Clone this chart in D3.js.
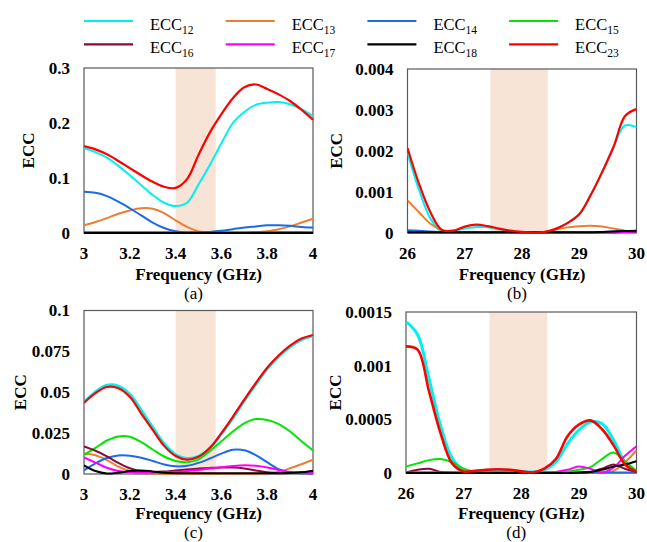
<!DOCTYPE html>
<html>
<head>
<meta charset="utf-8">
<script src="https://cdn.jsdelivr.net/npm/d3@7"></script>
<style>
  body { margin: 0; background: #fff; }
</style>
</head>
<body>
<svg id="chart" width="647" height="542"></svg>
<script>
// frequency grids
var freqLow = [3, 3.05, 3.1, 3.15, 3.2, 3.25, 3.3, 3.35, 3.4, 3.45, 3.5, 3.55, 3.6, 3.65, 3.7, 3.75, 3.8, 3.85, 3.9, 3.95, 4];
var freqHigh = [26, 26.2, 26.4, 26.6, 26.8, 27, 27.2, 27.4, 27.6, 27.8, 28, 28.2, 28.4, 28.6, 28.8, 29, 29.2, 29.4, 29.6, 29.8, 30];

var seriesNames = ["12", "13", "14", "15", "16", "17", "18", "23"];
var seriesColors = ["#00f0f0", "#ed7d31", "#1a6be8", "#00e600", "#8b0a3c", "#ff00ff", "#000000", "#ff0000"];

// (a) 3-4 GHz
var a12 = [0.154, 0.147, 0.137, 0.122, 0.105, 0.087, 0.069, 0.055, 0.049, 0.055, 0.088, 0.124, 0.163, 0.200, 0.220, 0.233, 0.237, 0.238, 0.234, 0.225, 0.212];
var a13 = [0.014, 0.020, 0.027, 0.035, 0.041, 0.045, 0.044, 0.036, 0.023, 0.011, 0.003, 0.001, 0.000, 0.000, 0.000, 0.001, 0.003, 0.007, 0.012, 0.019, 0.026];
var a14 = [0.075, 0.073, 0.067, 0.057, 0.045, 0.032, 0.019, 0.009, 0.003, 0.001, 0.001, 0.002, 0.004, 0.007, 0.010, 0.012, 0.014, 0.014, 0.013, 0.011, 0.010];
var a15 = [0.0005, 0.0005, 0.0005, 0.0005, 0.0005, 0.0005, 0.0005, 0.0005, 0.0005, 0.0005, 0.0005, 0.0005, 0.0005, 0.0005, 0.0006, 0.0008, 0.001, 0.0012, 0.0014, 0.0012, 0.001];
var a16 = [0.0008, 0.0008, 0.0008, 0.0008, 0.0008, 0.0008, 0.0008, 0.0008, 0.0008, 0.0008, 0.0008, 0.0008, 0.0008, 0.0008, 0.0008, 0.0008, 0.0008, 0.0008, 0.0008, 0.0008, 0.0008];
var a17 = [0.0004, 0.0004, 0.0004, 0.0004, 0.0004, 0.0004, 0.0004, 0.0004, 0.0004, 0.0004, 0.0004, 0.0004, 0.0004, 0.0004, 0.0004, 0.0004, 0.0004, 0.0004, 0.0004, 0.0004, 0.0004];
var a18 = [0.0002, 0.0002, 0.0002, 0.0002, 0.0002, 0.0002, 0.0002, 0.0002, 0.0002, 0.0002, 0.0002, 0.0002, 0.0002, 0.0002, 0.0002, 0.0002, 0.0002, 0.0002, 0.0002, 0.0002, 0.0002];
var a23 = [0.158, 0.152, 0.143, 0.131, 0.118, 0.105, 0.093, 0.084, 0.082, 0.098, 0.142, 0.183, 0.216, 0.245, 0.265, 0.270, 0.262, 0.252, 0.240, 0.224, 0.206];

// (b) 26-30 GHz
var b12 = [0.00195, 0.00105, 0.00035, 0.00002, 0.00004, 0.0001, 0.00014, 0.00013, 0.00008, 0.00004, 0.00001, 0.000005, 0.00002, 0.0001, 0.00024, 0.00045, 0.00092, 0.00148, 0.0021, 0.00262, 0.00258];
var b13 = [0.00079, 0.0005, 0.00022, 0.00006, 0.00001, 0.000005, 0.000005, 0.000005, 0.000005, 0.000005, 0.000005, 0.000005, 0.00002, 0.00008, 0.00013, 0.00016, 0.00017, 0.00015, 0.0001, 0.00005, 0.00003];
var b14 = [0.00006, 0.00005, 0.00003, 0.00001, 0, 0, 0, 0, 0, 0, 0, 0, 0, 0, 0, 0, 0.00001, 0.00002, 0.00003, 0.00004, 0.00004];
var b15 = [0.000005, 0.000005, 0.000005, 0.000005, 0.000005, 0.000005, 0.000005, 0.000005, 0.000005, 0.000005, 0.000005, 0.000005, 0.000005, 0.000005, 0.000005, 0.000005, 0.000005, 0.00001, 0.00002, 0.00001, 0.000005];
var b16 = [0, 0, 0, 0, 0, 0, 0, 0, 0, 0, 0, 0, 0, 0, 0, 0, 0, 0, 0, 0.00001, 0.00001];
var b17 = [0, 0, 0, 0, 0, 0, 0, 0, 0, 0, 0, 0, 0, 0, 0, 0, 0, 0.000005, 0.00001, 0.00002, 0.00003];
var b18 = [0.00001, 0.00001, 0.00001, 0.00001, 0.00001, 0.00001, 0.00001, 0.00001, 0.00001, 0.00001, 0.00001, 0.00001, 0.00001, 0.00001, 0.00001, 0.00001, 0.00001, 0.00002, 0.00003, 0.00004, 0.00005];
var b23 = [0.00207, 0.0012, 0.0005, 0.00007, 0.00005, 0.00015, 0.000195, 0.00016, 0.0001, 0.00005, 0.00002, 0.000005, 0.00002, 0.0001, 0.00024, 0.00045, 0.00092, 0.00148, 0.0021, 0.00285, 0.00302];

// (c) 3-4 GHz
var c12 = [0.0438, 0.0502, 0.0543, 0.0538, 0.0488, 0.039, 0.0285, 0.0185, 0.0118, 0.0095, 0.0108, 0.0158, 0.0245, 0.0342, 0.0448, 0.0548, 0.0643, 0.0718, 0.0778, 0.0822, 0.0845];
var c13 = [0.0124, 0.0115, 0.0085, 0.0045, 0.0018, 0.0006, 0.0003, 0.0002, 0.0002, 0.0002, 0.0002, 0.0002, 0.0002, 0.0002, 0.0002, 0.0002, 0.0004, 0.0014, 0.0035, 0.006, 0.0087];
var c14 = [0.0022, 0.0065, 0.0098, 0.0113, 0.0112, 0.01, 0.008, 0.0058, 0.0047, 0.005, 0.0068, 0.0095, 0.0125, 0.0148, 0.0145, 0.0115, 0.0072, 0.003, 0.001, 0.0004, 0.0002];
var c15 = [0.0118, 0.016, 0.0205, 0.023, 0.0228, 0.0195, 0.015, 0.0107, 0.008, 0.0072, 0.009, 0.014, 0.02, 0.026, 0.031, 0.0336, 0.033, 0.0305, 0.026, 0.02, 0.0144];
var c16 = [0.0168, 0.0142, 0.0108, 0.0068, 0.0035, 0.0017, 0.0012, 0.0015, 0.0022, 0.0028, 0.0033, 0.0037, 0.004, 0.004, 0.0034, 0.0022, 0.001, 0.0005, 0.0006, 0.001, 0.0014];
var c17 = [0.0101, 0.007, 0.0038, 0.0018, 0.001, 0.0008, 0.0008, 0.0009, 0.0012, 0.0018, 0.0025, 0.0033, 0.0042, 0.0049, 0.0053, 0.005, 0.004, 0.0025, 0.0012, 0.0006, 0.0004];
var c18 = [0.0053, 0.0018, 0.0003, 0.0008, 0.0018, 0.0022, 0.0016, 0.0008, 0.0005, 0.0004, 0.0004, 0.0004, 0.0004, 0.0004, 0.0004, 0.0004, 0.0004, 0.0005, 0.0007, 0.001, 0.002];
var c23 = [0.0436, 0.0495, 0.0532, 0.0525, 0.0472, 0.037, 0.027, 0.0172, 0.011, 0.0088, 0.0105, 0.016, 0.025, 0.035, 0.0455, 0.0555, 0.065, 0.0725, 0.0785, 0.0828, 0.085];

// (d) 26-30 GHz
var d12 = [0.00141, 0.00129, 0.00088, 0.00044, 0.00014, 0.00003, 0.000015, 0.000025, 0.00003, 0.000025, 0.000015, 0.00001, 0.00003, 0.0001, 0.00027, 0.0004, 0.000475, 0.00046, 0.00031, 0.0001, 0.00001];
var d13 = [0, 0, 0, 0, 0, 0, 0, 0, 0, 0, 0, 0, 0, 0, 0, 0, 0, 0, 0.00002, 0.0001, 0.00021];
var d14 = [0.000005, 0.000005, 0.000005, 0.000005, 0.000005, 0.000005, 0.000005, 0.000005, 0.000005, 0.000005, 0.000005, 0.000005, 0.000005, 0.000005, 0.000005, 0.000005, 0.000005, 0.000005, 0.000005, 0.000005, 0.000005];
var d15 = [0.00006, 0.00009, 0.00012, 0.00013, 0.0001, 0.00004, 0.00001, 0.00001, 0.00001, 0.00001, 0.00001, 0.00001, 0.00001, 0.00001, 0.000015, 0.00003, 0.000055, 0.00013, 0.00019, 0.00011, 0.00002];
var d16 = [0.000005, 0.00003, 0.00004, 0.00001, 0.000005, 0, 0, 0, 0, 0, 0, 0, 0, 0, 0, 0, 0.00001, 0.00004, 0.00008, 0.00004, 0.00001];
var d17 = [0.000005, 0.000005, 0.000005, 0.000005, 0.000005, 0.000005, 0.000005, 0.000005, 0.000005, 0.000005, 0.000005, 0.000005, 0.000005, 0.00001, 0.00003, 0.00006, 0.00004, 0.000005, 0.00005, 0.00016, 0.00025];
var d18 = [0, 0, 0, 0, 0, 0, 0, 0, 0, 0, 0, 0, 0, 0, 0, 0.000005, 0.00001, 0.00003, 0.00006, 0.00008, 0.00011];
var d23 = [0.00118, 0.00115, 0.00076, 0.00037, 0.00009, 0.000015, 0.00002, 0.00003, 0.000035, 0.00003, 0.000015, 0.000005, 0.00004, 0.00013, 0.00034, 0.00045, 0.00049, 0.00041, 0.00026, 0.00008, 0.00001];

// tick labels
var xTicksLow = [3, 3.2, 3.4, 3.6, 3.8, 4];
var xTicksHigh = [26, 27, 28, 29, 30];
var yTicksA = ["0", "0.1", "0.2", "0.3"];
var yTicksB = ["0", "0.001", "0.002", "0.003", "0.004"];
var yTicksC = ["0", "0.025", "0.05", "0.075", "0.1"];
var yTicksD = ["0", "0.0005", "0.001", "0.0015"];

// shaded operating bands
var bandLow = [3.4, 3.575];
var bandHigh = [27.45, 28.45];

var panels = [
    { label: "(a)", freq: freqLow, series: [a12, a13, a14, a15, a16, a17, a18, a23], yTicks: yTicksA, xTicks: xTicksLow, band: bandLow,
      left: 84, right: 313, top: 68, bottom: 233, yTitleX: 28 },
    { label: "(b)", freq: freqHigh, series: [b12, b13, b14, b15, b16, b17, b18, b23], yTicks: yTicksB, xTicks: xTicksHigh, band: bandHigh,
      left: 407.5, right: 636.5, top: 69, bottom: 232.7, yTitleX: 336 },
    { label: "(c)", freq: freqLow, series: [c12, c13, c14, c15, c16, c17, c18, c23], yTicks: yTicksC, xTicks: xTicksLow, band: bandLow,
      left: 84, right: 313, top: 310.5, bottom: 474, yTitleX: 20 },
    { label: "(d)", freq: freqHigh, series: [d12, d13, d14, d15, d16, d17, d18, d23], yTicks: yTicksD, xTicks: xTicksHigh, band: bandHigh,
      left: 406, right: 636.5, top: 312, bottom: 473, yTitleX: 335 }
];

var serif = "'Liberation Serif', 'Times New Roman', serif";
var svg = d3.select("#chart");

function drawPanel(p, idx) {
    var x = d3.scaleLinear()
        .domain(d3.extent(p.freq))
        .range([p.left, p.right]);
    var yMax = +p.yTicks[p.yTicks.length - 1];
    var y = d3.scaleLinear()
        .domain([0, yMax])
        .range([p.bottom, p.top]);

    var g = svg.append("g");

    g.append("clipPath")
        .attr("id", "clip" + idx)
        .append("rect")
        .attr("x", p.left)
        .attr("y", p.top - 2)
        .attr("width", p.right - p.left + 2)
        .attr("height", p.bottom - p.top + 3);

    g.append("rect")
        .attr("x", x(p.band[0]))
        .attr("y", p.top)
        .attr("width", x(p.band[1]) - x(p.band[0]))
        .attr("height", p.bottom - p.top)
        .attr("fill", "#f8e4d6");

    g.append("rect")
        .attr("x", p.left)
        .attr("y", p.top)
        .attr("width", p.right - p.left)
        .attr("height", p.bottom - p.top)
        .attr("fill", "none")
        .attr("stroke", "#595959")
        .attr("stroke-width", 1.2);

    var line = d3.line()
        .x(function (d) { return x(d[0]); })
        .y(function (d) { return y(d[1]); })
        .curve(d3.curveCatmullRom.alpha(0.5));

    var lines = g.append("g").attr("clip-path", "url(#clip" + idx + ")");
    p.series.forEach(function (vals, i) {
        var pts = p.freq.map(function (f, k) { return [f, vals[k]]; });
        var w = 2;
        if (seriesNames[i] === "12" && idx >= 2) w = 3;
        if (seriesNames[i] === "23") w = idx === 3 ? 2.6 : 2.2;
        lines.append("path")
            .datum(pts)
            .attr("d", line)
            .attr("fill", "none")
            .attr("stroke", seriesColors[i])
            .attr("stroke-width", w);
    });

    // y tick labels
    g.selectAll(".ytick")
        .data(p.yTicks)
        .enter().append("text")
        .attr("x", p.left - 14)
        .attr("y", function (d) { return y(+d); })
        .attr("dy", "0.35em")
        .attr("text-anchor", "end")
        .style("font-family", serif)
        .style("font-size", "17px")
        .style("font-weight", "bold")
        .text(function (d) { return d; });

    // x tick labels
    g.selectAll(".xtick")
        .data(p.xTicks)
        .enter().append("text")
        .attr("x", function (d) { return x(d); })
        .attr("y", p.bottom + 26)
        .attr("text-anchor", "middle")
        .style("font-family", serif)
        .style("font-size", "17px")
        .style("font-weight", "bold")
        .text(function (d) { return d; });

    // bottom row is squeezed against the picture edge
    var cx = (p.left + p.right) / 2;
    g.append("text")
        .attr("x", cx)
        .attr("y", Math.min(p.bottom + 47, 519))
        .attr("text-anchor", "middle")
        .style("font-family", serif)
        .style("font-size", "17px")
        .style("font-weight", "bold")
        .text("Frequency (GHz)");

    g.append("text")
        .attr("x", cx - 5)
        .attr("y", Math.min(p.bottom + 66, 538))
        .attr("text-anchor", "middle")
        .style("font-family", serif)
        .style("font-size", "17px")
        .text(p.label);

    g.append("text")
        .attr("transform", "translate(" + p.yTitleX + "," + ((p.top + p.bottom) / 2) + ") rotate(-90)")
        .attr("dy", "0.35em")
        .attr("text-anchor", "middle")
        .style("font-family", serif)
        .style("font-size", "17px")
        .style("font-weight", "bold")
        .text("ECC");
}

panels.forEach(drawPanel);

// legend, two rows of four
var legend = svg.append("g");
seriesNames.forEach(function (name, i) {
    var col = i % 4;
    var row = Math.floor(i / 4);
    var lx = 84 + col * 141.7;
    var ly = row === 0 ? 21 : 44.3;
    legend.append("line")
        .attr("x1", lx)
        .attr("x2", lx + 49)
        .attr("y1", ly)
        .attr("y2", ly)
        .attr("stroke", seriesColors[i])
        .attr("stroke-width", 2.2);
    var t = legend.append("text")
        .attr("x", lx + 66)
        .attr("y", ly + 8.5)
        .style("font-family", serif)
        .style("font-size", "16.5px");
    t.append("tspan").text("ECC");
    t.append("tspan")
        .attr("dy", 4)
        .style("font-size", "11.5px")
        .text(name);
});
</script>
</body>
</html>
